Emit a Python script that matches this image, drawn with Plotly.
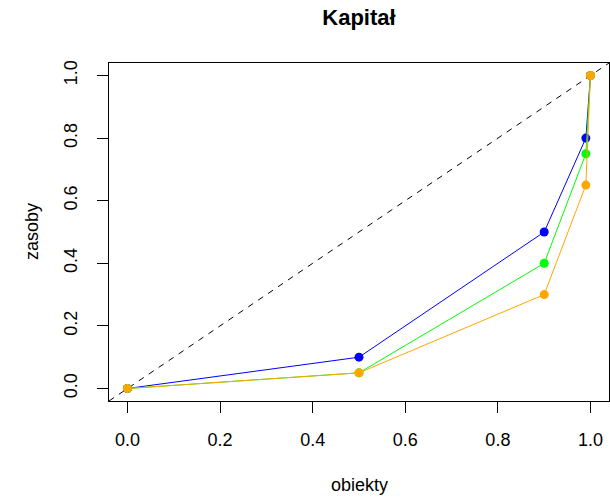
import plotly.graph_objects as go

# Cumulative share of objects vs. cumulative share of resources
obiekty = [0.0, 0.5, 0.9, 0.99, 1.0]
zasoby_niebieski = [0.0, 0.10, 0.50, 0.80, 1.0]
zasoby_zielony = [0.0, 0.05, 0.40, 0.75, 1.0]
zasoby_pomaranczowy = [0.0, 0.05, 0.30, 0.65, 1.0]

tick_vals = [0.0, 0.2, 0.4, 0.6, 0.8, 1.0]
tick_text = ["0.0", "0.2", "0.4", "0.6", "0.8", "1.0"]
axis_range = [-0.04, 1.04]

W, H = 610, 498
M_L, M_R, M_T, M_B = 109, 1, 63, 97
FONT = "Liberation Sans, Arial, sans-serif"

fig = go.Figure()

# Equality line y = x across the full axis range
fig.add_trace(go.Scatter(
    x=axis_range, y=axis_range, mode="lines",
    line=dict(color="black", width=1, dash="6px,6px"),
    hoverinfo="skip", showlegend=False,
))

for ys, col in [(zasoby_niebieski, "#0000FF"),
                (zasoby_zielony, "#00FF00"),
                (zasoby_pomaranczowy, "#FFA500")]:
    fig.add_trace(go.Scatter(
        x=obiekty, y=ys, mode="lines+markers",
        line=dict(color=col, width=1),
        marker=dict(color=col, size=9),
        showlegend=False, cliponaxis=True,
    ))

axis_common = dict(
    range=axis_range, tickvals=tick_vals, ticktext=tick_text,
    showgrid=False, zeroline=False,
    showline=True, linecolor="black", linewidth=1, mirror=True,
    ticks="outside", ticklen=11, tickcolor="black", tickwidth=1,
    tickfont=dict(family=FONT, size=18, color="black"),
)

fig.update_layout(
    width=W, height=H,
    margin=dict(l=M_L, r=M_R, t=M_T, b=M_B),
    paper_bgcolor="white", plot_bgcolor="white",
    xaxis=dict(**axis_common, ticklabelstandoff=11),
    yaxis=dict(**axis_common, tickangle=-90, ticklabelstandoff=13),
    title=dict(text="<b>Kapitał</b>", x=(M_L + (W - M_R)) / 2 / W, xanchor="center",
               y=1 - 17 / H, yanchor="middle",
               font=dict(family=FONT, size=22, color="black")),
    showlegend=False,
)

ph = H - M_T - M_B
pw = W - M_L - M_R
fig.add_annotation(text="obiekty", xref="paper", yref="paper",
                   x=0.5, y=-(485 - (H - M_B)) / ph,
                   xanchor="center", yanchor="middle", showarrow=False,
                   font=dict(family=FONT, size=18, color="black"))
fig.add_annotation(text="zasoby", xref="paper", yref="paper",
                   x=-(M_L - 32) / pw, y=0.5, textangle=-90,
                   xanchor="center", yanchor="middle", showarrow=False,
                   font=dict(family=FONT, size=18, color="black"))

fig.write_html("out.html")
